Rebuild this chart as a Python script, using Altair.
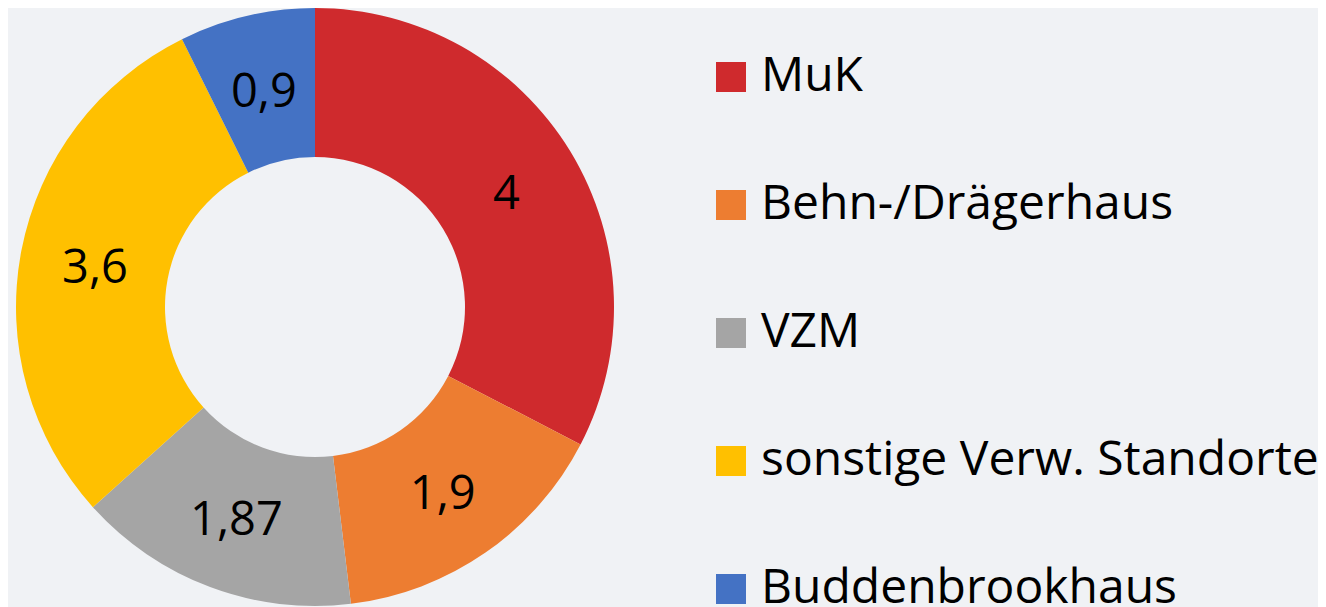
import altair as alt
import pandas as pd

categories = ["MuK", "Behn-/Drägerhaus", "VZM", "sonstige Verw. Standorte", "Buddenbrookhaus"]
values = [4, 1.9, 1.87, 3.6, 0.9]
labels = ["4", "1,9", "1,87", "3,6", "0,9"]
colors = ["#cf2a2d", "#ed7d31", "#a5a5a5", "#ffc000", "#4472c4"]

df = pd.DataFrame({
    "cat": categories,
    "value": values,
    "label": labels,
    "order": list(range(len(categories))),
})

FONT = "Open Sans"
cx, cy = 307, 299

base = alt.Chart(df).encode(
    theta=alt.Theta("value:Q", stack=True),
    order=alt.Order("order:Q"),
)

arcs = base.mark_arc(outerRadius=299, innerRadius=150, stroke=None).encode(
    x=alt.value(cx),
    y=alt.value(cy),
    color=alt.Color(
        "cat:N",
        scale=alt.Scale(domain=categories, range=colors),
        sort=categories,
        legend=alt.Legend(
            title=None,
            orient="none",
            legendX=699,
            legendY=45,
            direction="vertical",
            symbolType="square",
            symbolSize=900,
            symbolStrokeWidth=0,
            labelFont=FONT,
            labelFontSize=48,
            labelColor="#000000",
            labelLimit=800,
            labelOffset=6,
            rowPadding=80,
        ),
    ),
)

text = base.mark_text(radius=224, font=FONT, fontSize=47, color="#000000", dy=4).encode(
    x=alt.value(cx),
    y=alt.value(cy),
    text="label:N",
)

chart = (
    alt.layer(arcs, text)
    .properties(width=1310, height=620, autosize="none", padding=0, background="#f0f2f5")
    .configure_view(stroke=None)
)

chart.save("out.html", embed_options={"renderer": "svg", "actions": False})
